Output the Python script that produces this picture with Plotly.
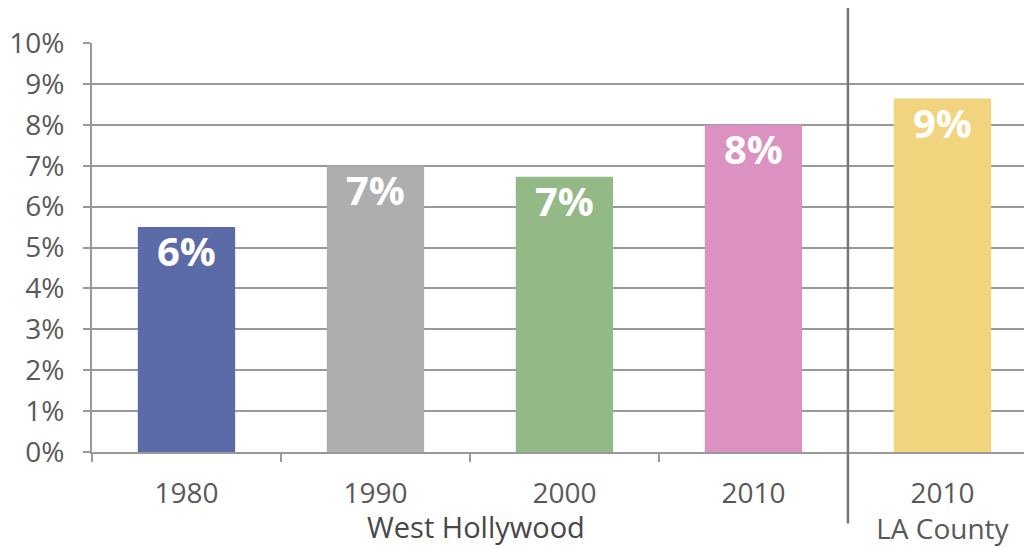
import plotly.graph_objects as go

categories = ["1980", "1990", "2000", "2010", "2010<br>LA County"]
values = [5.5, 7.0, 6.73, 8.0, 8.64]
labels = ["6%", "7%", "7%", "8%", "9%"]
colors = ["#5b6ba8", "#aeaeae", "#93b986", "#db92c0", "#f2d47e"]
y_ticks = list(range(0, 11))
y_tick_text = [f"{t}%" for t in y_ticks]
group_label = "West Hollywood"

FONT = "Open Sans"
GRID = "#999999"

fig = go.Figure()
fig.add_trace(go.Bar(
    x=categories, y=values,
    marker=dict(color=colors, line=dict(width=0)),
    width=0.515,
    hoverinfo="skip",
))

for i, (v, t) in enumerate(zip(values, labels)):
    fig.add_annotation(
        x=i, y=v, text=t, showarrow=False,
        xanchor="center", yanchor="top", yshift=6,
        font=dict(family=FONT, size=40, color="white", weight=700),
    )

fig.add_annotation(
    x=1.53, y=-0.183, xref="x", yref="paper", text=group_label, showarrow=False,
    xanchor="center", yanchor="middle",
    font=dict(family=FONT, size=29, color="#484848"),
)

fig.add_shape(
    type="line", xref="x", yref="paper",
    x0=3.5, x1=3.5, y0=-0.175, y1=1.098,
    line=dict(color="#777777", width=2.5),
)

# page body has an 8px margin, so the figure is offset by 8px
fig.update_layout(
    width=1024, height=540,
    margin=dict(l=84, r=0, t=35, b=96),
    paper_bgcolor="white", plot_bgcolor="white",
    showlegend=False,
    font=dict(family=FONT, size=28, color="#595959"),
)
fig.update_xaxes(
    type="category", range=[-0.5, 4.474], automargin=False,
    tickson="boundaries", ticks="outside", ticklen=8, tickwidth=2, tickcolor=GRID,
    showline=True, linecolor=GRID, linewidth=2,
    showgrid=False, ticklabelstandoff=15,
    tickfont=dict(family=FONT, size=28, color="#595959"),
)
fig.update_yaxes(
    range=[0, 10], tickvals=y_ticks, ticktext=y_tick_text, automargin=False,
    ticks="outside", ticklen=7, tickwidth=2, tickcolor=GRID,
    showline=True, linecolor=GRID, linewidth=2,
    showgrid=True, gridcolor=GRID, gridwidth=2, zeroline=False,
    ticklabelstandoff=13,
    tickfont=dict(family=FONT, size=28, color="#595959"),
)

fig.write_html("out.html")
